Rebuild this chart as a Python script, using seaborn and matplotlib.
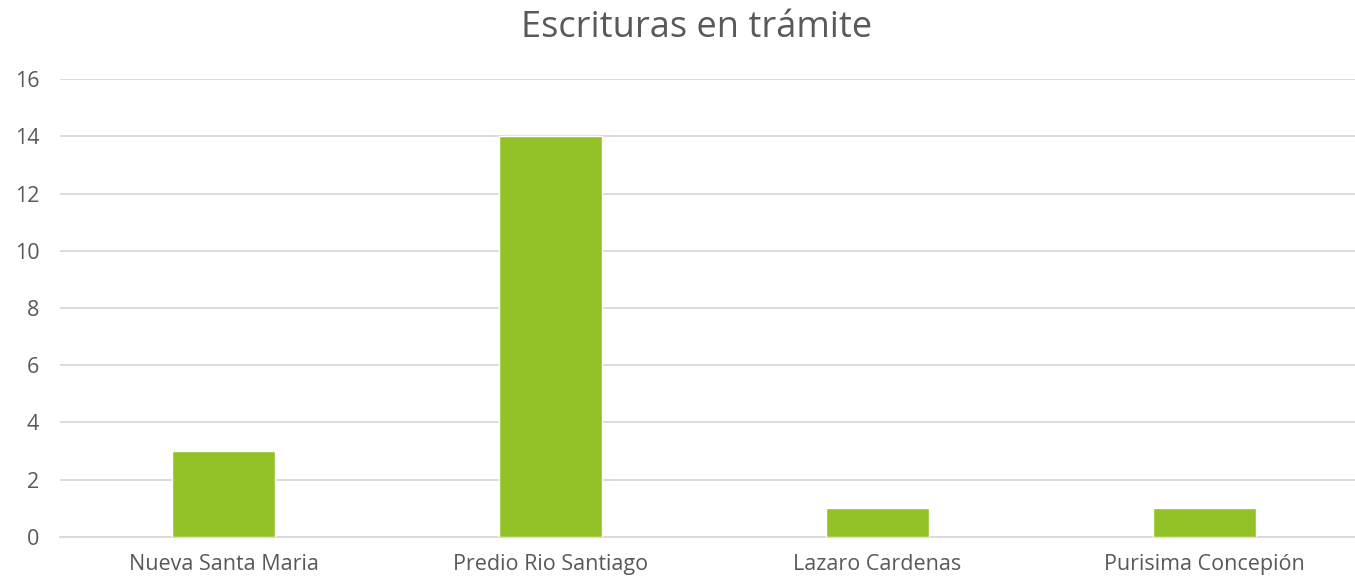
import matplotlib
matplotlib.use("Agg")
import matplotlib.pyplot as plt
import seaborn as sns
import pandas as pd

# Data
categories = ["Nueva Santa Maria", "Predio Rio Santiago", "Lazaro Cardenas", "Purisima Concepión"]
values = [3, 14, 1, 1]
y_ticks = [0, 2, 4, 6, 8, 10, 12, 14, 16]

BAR_COLOR = "#92C227"
TEXT_GRAY = "#595959"
GRID_GRAY = "#D9D9D9"

sns.set_style("white")
plt.rcParams["font.family"] = ["Open Sans", "DejaVu Sans"]

df = pd.DataFrame({"zona": categories, "escrituras": values})

fig = plt.figure(figsize=(13.55, 5.84), dpi=100)
# plot area runs slightly past the right edge, as in the original export
ax = fig.add_axes([0.0443, 0.0805, 0.9653, 0.7842])

sns.barplot(data=df, x="zona", y="escrituras", color=BAR_COLOR,
            width=0.315, saturation=1, ax=ax, zorder=3)

ax.set_ylim(0, 16)
ax.set_yticks(y_ticks)
ax.yaxis.grid(True, color=GRID_GRAY, lw=1.3, zorder=0)
ax.set_axisbelow(True)
for s in ["top", "right", "left"]:
    ax.spines[s].set_visible(False)
ax.spines["bottom"].set_color(GRID_GRAY)
ax.spines["bottom"].set_linewidth(1.3)
ax.tick_params(axis="both", length=0, labelsize=15.5, colors=TEXT_GRAY)
ax.tick_params(axis="y", pad=15)
ax.tick_params(axis="x", pad=12)
ax.set_xlabel("")
ax.set_ylabel("")

fig.text(0.514, 0.952, "Escrituras en trámite", ha="center", va="center",
         fontsize=26, color=TEXT_GRAY)

fig.savefig("out.png", dpi=100)
